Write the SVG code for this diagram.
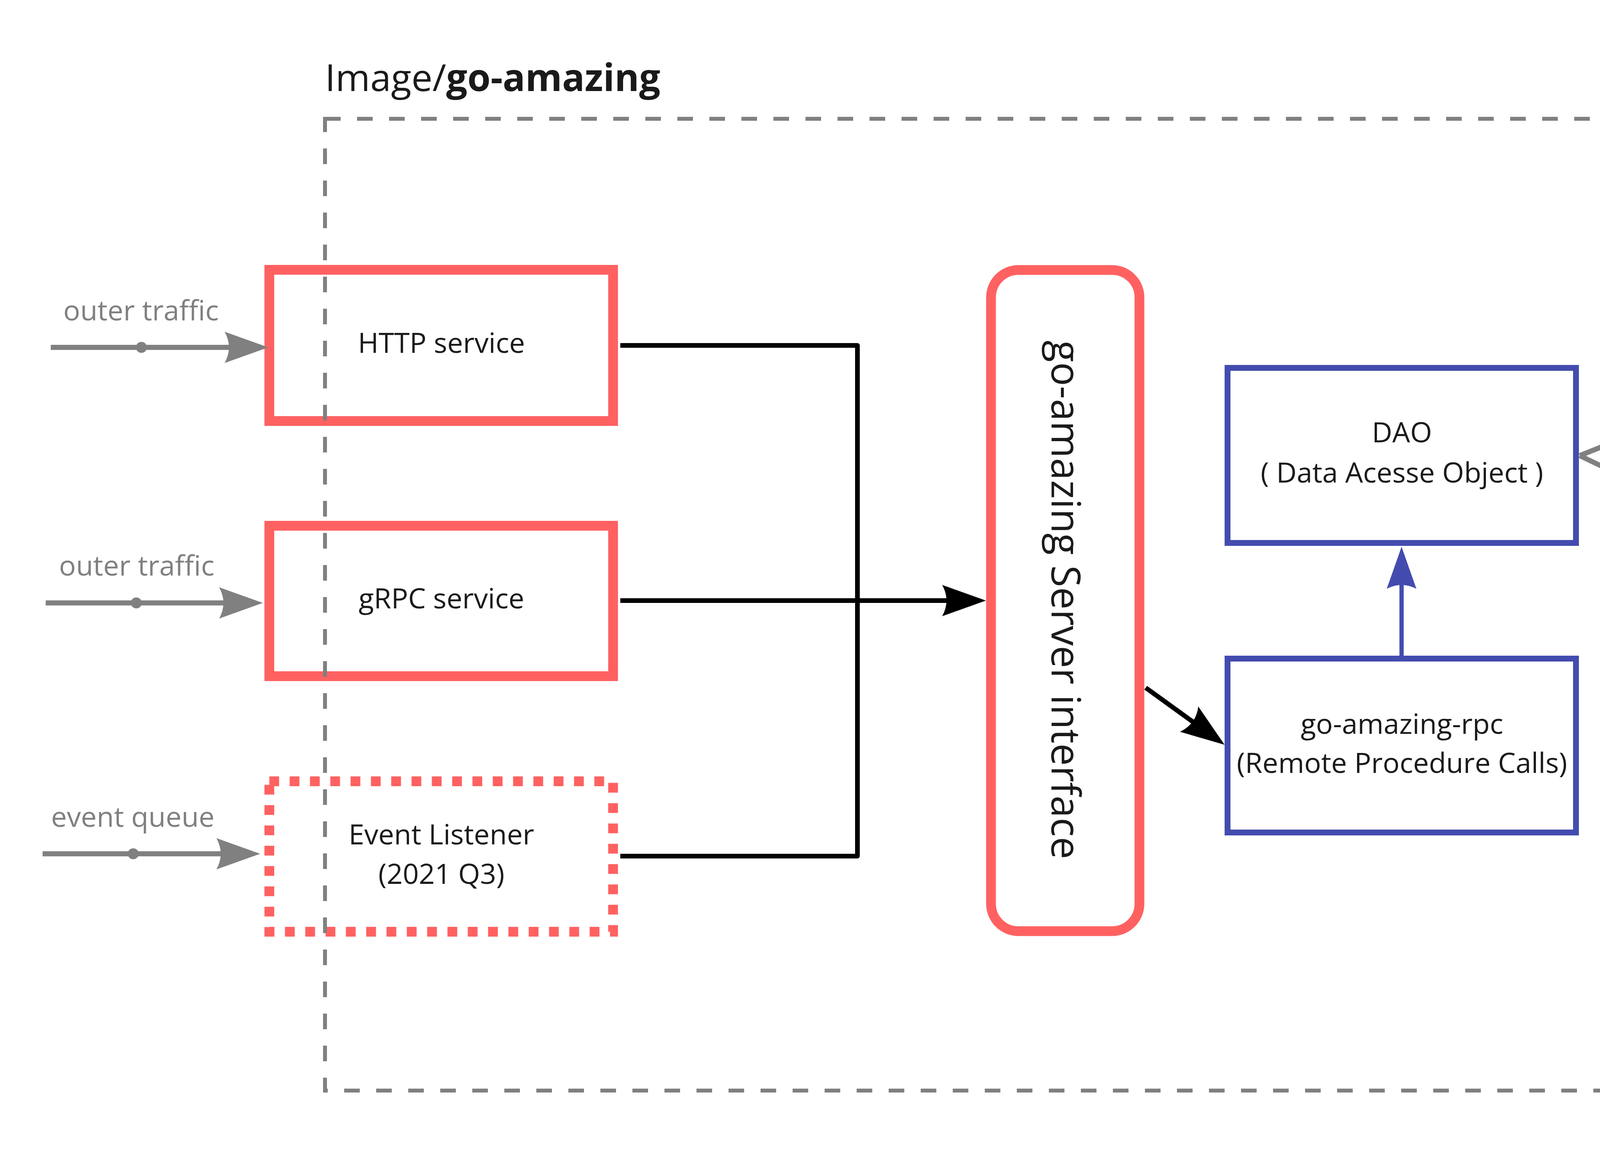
<svg xmlns="http://www.w3.org/2000/svg" width="5403" height="2961" viewBox="0 0 5403 2961">
<style>
text{font-family:"Open Sans","Noto Sans","Liberation Sans",sans-serif;}
.lbl{font-size:72px;fill:#1a1a1a;text-anchor:middle;}
.sm{font-size:62px;fill:#1a1a1a;text-anchor:middle;}
.in{font-size:72px;fill:#808080;text-anchor:middle;}
.leg{font-size:72px;fill:#ffffff;}
.red{fill:none;stroke:#ff6161;stroke-width:25;}
.blue{fill:none;stroke:#434cae;stroke-width:15;}
.grayshape{fill:none;stroke:#808080;stroke-width:13;}
.gline{fill:none;stroke:#808080;stroke-width:13;}
.bline{fill:none;stroke:#000000;stroke-width:12;stroke-linejoin:round;}
.bluel{fill:none;stroke:#434cae;stroke-width:11;}
</style>
<defs>
<marker id="ahGray" viewBox="-120 -50 130 100" markerWidth="130" markerHeight="100" refX="-50" refY="0" orient="auto" markerUnits="userSpaceOnUse">
<path d="M0,0 L-112,-40 Q-90,0 -112,40 Z" fill="#808080"/>
</marker>
<marker id="ahBlack" viewBox="-120 -50 130 100" markerWidth="130" markerHeight="100" refX="-50" refY="0" orient="auto" markerUnits="userSpaceOnUse">
<path d="M0,0 L-112,-40 Q-90,0 -112,40 Z" fill="#000000"/>
</marker>
<marker id="ahBlue" viewBox="-120 -50 130 100" markerWidth="130" markerHeight="100" refX="-50" refY="0" orient="auto" markerUnits="userSpaceOnUse">
<path d="M0,0 L-108,-38 Q-88,0 -108,38 Z" fill="#434cae"/>
</marker>
</defs>
<rect width="5403" height="2961" fill="#ffffff"/>

<g id="http-service">
<rect class="red" x="689.5" y="690.5" width="880" height="387"/>
<text class="lbl" x="1130" y="903">HTTP service</text>
</g>
<g id="grpc-service">
<rect class="red" x="689.5" y="1345.5" width="880" height="385"/>
<text class="lbl" x="1130" y="1557">gRPC service</text>
</g>
<g id="event-listener">
<rect class="red" x="689.5" y="1999.5" width="880" height="385" stroke-dasharray="25 27"/>
<text class="lbl" x="1130" y="2161">Event Listener</text>
<text class="lbl" x="1130" y="2262">(2021 Q3)</text>
</g>

<g id="container">
<path d="M832,304 H4389 V2791 H832 Z" fill="none" stroke="#808080" stroke-width="10" stroke-dasharray="40 42"/>
<text x="832" y="233" font-size="96" fill="#1a1a1a">Image/<tspan font-weight="bold">go-amazing</tspan></text>
</g>

<g id="server-interface">
<rect class="red" x="2537" y="691" width="380" height="1692" rx="70" ry="70"/>
<text transform="translate(2692,1535) rotate(90)" font-size="102" fill="#1a1a1a" text-anchor="middle">go-amazing Server interface</text>
</g>

<g id="dao">
<rect class="blue" x="3142.5" y="941.5" width="892" height="448"/>
<text class="lbl" x="3589" y="1132">DAO</text>
<text class="lbl" x="3589" y="1235">( Data Acesse Object )</text>
</g>
<g id="rpc">
<rect class="blue" x="3142.5" y="1685.5" width="892" height="445"/>
<text class="lbl" x="3589" y="1878">go-amazing-rpc</text>
<text class="lbl" x="3589" y="1978">(Remote Procedure Calls)</text>
</g>

<g id="db">
<path class="grayshape" d="M4696,760 A224,73 0 0 1 5144,760 V1062 A224,73 0 0 1 4696,1062 Z"/>
<path class="grayshape" d="M4696,760 A224,73 0 0 0 5144,760"/>
<text class="sm" x="4920" y="925">DB</text>
<text class="sm" x="4920" y="1016">go-amazing</text>
</g>
<g id="other-services">
<polygon class="grayshape" points="4804,1277 5038,1277 5154,1470 5038,1663 4804,1663 4683,1470"/>
<text class="sm" x="4918" y="1443">other</text>
<text class="sm" x="4918" y="1528">services</text>
</g>

<g id="inputs">
<text class="in" x="361" y="820">outer traffic</text>
<text class="in" x="350" y="1473">outer traffic</text>
<text class="in" x="340" y="2116">event queue</text>
</g>

<g id="connectors">
<path class="gline" d="M130,889 H637" marker-end="url(#ahGray)"/>
<circle cx="362" cy="889" r="14" fill="#808080"/>
<path class="gline" d="M117,1543 H623" marker-end="url(#ahGray)"/>
<circle cx="349" cy="1543" r="14" fill="#808080"/>
<path class="gline" d="M109,2185 H616" marker-end="url(#ahGray)"/>
<circle cx="341" cy="2185" r="14" fill="#808080"/>

<path class="bline" d="M1588,884 H2195 V2191 H1588"/>
<path class="bline" d="M1588,1537 H2474" marker-end="url(#ahBlack)"/>
<path class="bline" d="M2933,1760 L3094.4,1876.7" marker-end="url(#ahBlack)"/>

<path class="bluel" d="M3588,1678 V1449" marker-end="url(#ahBlue)"/>

<path class="gline" d="M4044,1166 L4639.6,928.5" marker-end="url(#ahGray)"/>
<path class="gline" d="M4044,1166 L4192,1237 M4509,1389 L4628.9,1446.4" marker-end="url(#ahGray)"/>
<text transform="translate(4350,1313) rotate(25.6)" font-size="72" fill="#808080" text-anchor="middle" y="20">grpc/http</text>
</g>

<g id="legend">
<path d="M4643,2241 C4700,2237 5100,2236 5234,2241 C5265,2243 5285,2265 5285,2291 C5285,2320 5265,2343 5234,2343 C5100,2338 4700,2338 4643,2344 C4612,2344 4591,2320 4591,2292 C4591,2264 4612,2241 4643,2241 Z" fill="#ffadad"/>
<text class="leg" x="4664" y="2315">generated code</text>
<path d="M4643,2380 C4800,2379 5100,2378 5206,2381 C5240,2383 5265,2392 5280,2408 C5290,2420 5294,2432 5294,2442 C5294,2470 5272,2493 5245,2493 C5232,2493 5220,2488 5211,2482 C5100,2480 4800,2481 4643,2483 C4614,2483 4591,2460 4591,2431 C4591,2403 4614,2380 4643,2380 Z" fill="#a1a7d7"/>
<text class="leg" x="4662" y="2454">your implements</text>
<path d="M4640,2528 C4800,2527 4950,2525 5046,2528 C5065,2530 5080,2535 5097,2535 C5130,2535 5160,2533 5190,2533 C5229,2533 5259,2560 5259,2591 C5259,2620 5236,2643 5208,2643 C5198,2643 5190,2640 5184,2636 C5150,2638 5120,2640 5097,2640 C5075,2640 5060,2634 5046,2632 C4950,2629 4800,2630 4640,2632 C4613,2632 4591,2608 4591,2580 C4591,2552 4613,2528 4640,2528 Z" fill="#bfbfbf"/>
<text class="leg" x="4665" y="2600">others</text>
</g>
</svg>
